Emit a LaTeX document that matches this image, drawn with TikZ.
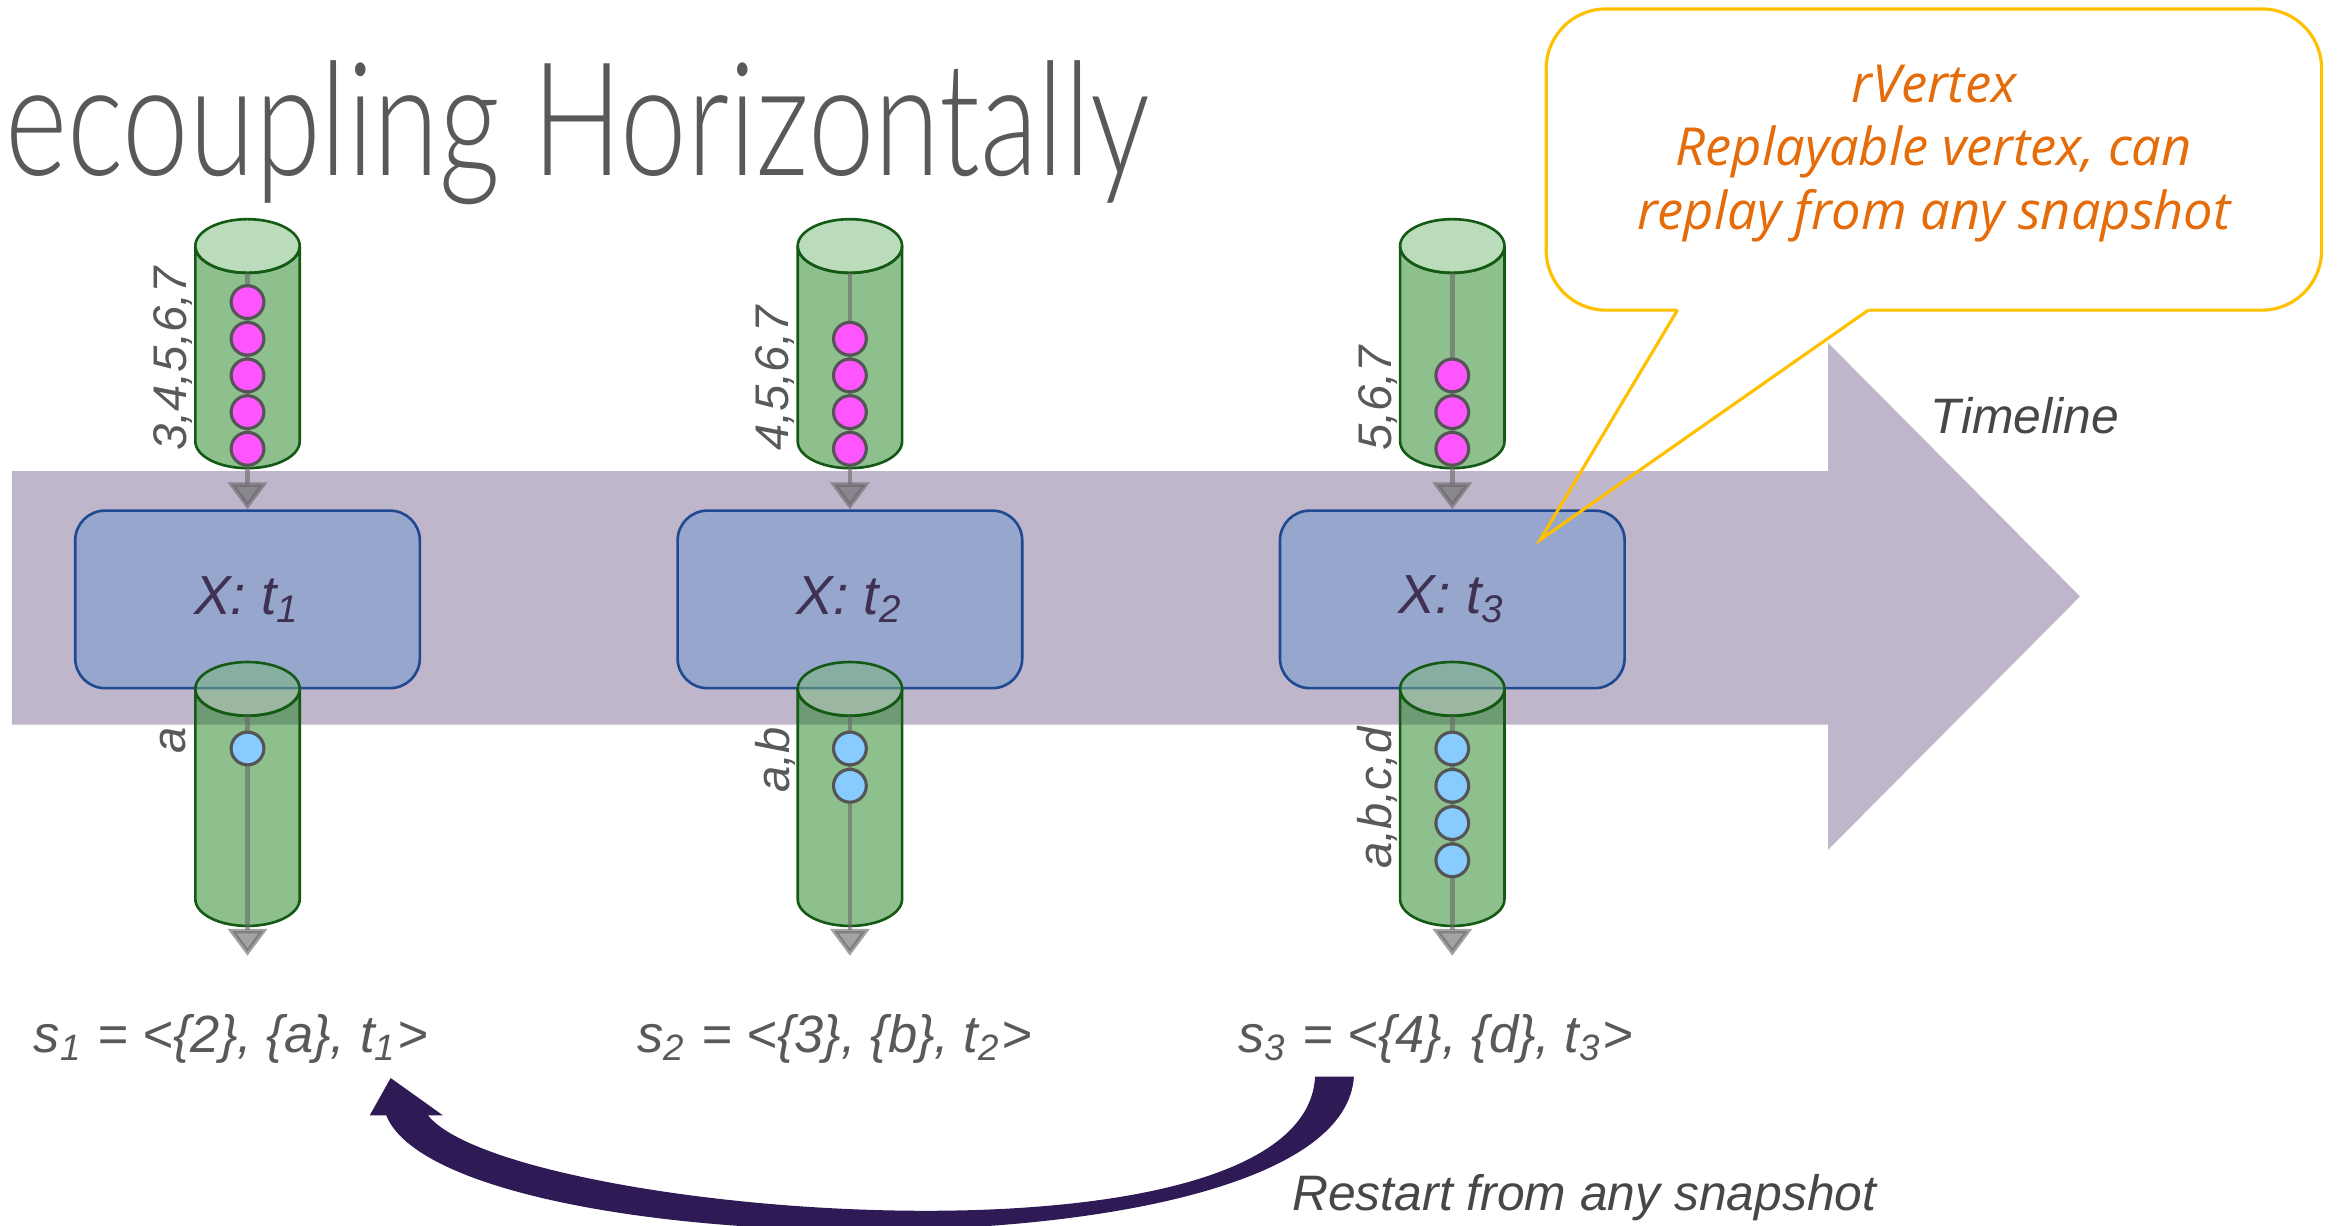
\documentclass[tikz,border=0pt]{standalone}
\usepackage{fontspec}
\setmainfont{Liberation Sans}
\newfontfamily\segoe{Open Sans}
\IfFontExistsTF{Lato Light}{\newfontfamily\titlefont{Lato Light}}{\newfontfamily\titlefont{Open Sans}}
\usetikzlibrary{arrows.meta, calc, positioning}

\definecolor{bandcol}{RGB}{191,182,203}
\definecolor{boxfill}{RGB}{151,166,204}
\definecolor{boxline}{RGB}{31,73,145}
\definecolor{boxtext}{RGB}{63,49,81}
\definecolor{pipebody}{RGB}{30,130,30}
\definecolor{pipeface}{RGB}{120,185,120}
\definecolor{pipeedge}{RGB}{20,90,20}
\definecolor{inbead}{RGB}{255,85,255}
\definecolor{outbead}{RGB}{136,204,255}
\definecolor{beadedge}{RGB}{85,85,85}
\definecolor{noteline}{RGB}{255,192,0}
\definecolor{notetext}{RGB}{228,108,10}
\definecolor{textgray}{RGB}{89,89,89}
\definecolor{restartcol}{RGB}{46,26,84}

\begin{document}
\begin{tikzpicture}[x=0.01cm, y=-0.01cm,
    vertexbox/.style={draw=boxline, fill=boxfill, line width=0.5pt, rounded corners=0.2cm,
      minimum width=2.31cm, minimum height=1.19cm, text=boxtext, font=\itshape\fontsize{10.5}{12}\selectfont},
    pipe/.style={fill=pipebody, fill opacity=0.5, draw=pipeedge, line width=0.5pt},
    pipetop/.style={fill=pipeface, fill opacity=0.5, draw=pipeedge, line width=0.5pt},
    flow/.style={draw=black!60, opacity=0.6, line width=0.85pt, -{Triangle[width=0.26cm, length=0.18cm]}},
    bead/.style={draw=beadedge, line width=0.6pt},
    pipelabel/.style={rotate=90, text=textgray, inner sep=0pt, font=\itshape\fontsize{9}{10}\selectfont},
    snap/.style={anchor=base west, inner sep=0pt, text=textgray, font=\itshape\fontsize{10}{12}\selectfont},
    caption/.style={inner sep=0pt, text=textgray!80!black, font=\itshape\fontsize{9.5}{11}\selectfont}]
			\useasboundingbox (0,0) rectangle (1568,822);

			% Title
			\node[anchor=base west, inner sep=0pt, text=textgray, font=\titlefont\fontsize{30}{32}\selectfont] (title) at (3,118)
			  {\resizebox{7.67cm}{0.77cm}{ecoupling Horizontally}};

			% Timeline band
			\fill[bandcol] (8,316) -- (1226,316) -- (1226,230) -- (1395,400) -- (1226,570) -- (1226,486) -- (8,486) -- cycle;
			\node[caption] (timeline) at (1358,279) {Timeline};

			% Vertices
			\node[vertexbox] (box1) at (166,402) {X: t\textsubscript{1}};
			\node[vertexbox] (box2) at (570,402) {X: t\textsubscript{2}};
			\node[vertexbox] (box3) at (974,402) {X: t\textsubscript{3}};

			% Input and output channels
			\foreach \cx/\n/\ins/\outs/\inlbl/\outlbl in {166/1/5/1/{3,4,5,6,7}/{a}, 570/2/4/2/{4,5,6,7}/{a,b}, 974/3/3/4/{5,6,7}/{a,b,c,d}}{
				\path[pipe] (\cx-35,165) arc[start angle=180, end angle=0, x radius=35, y radius=18]
				  -- (\cx+35,296) arc[start angle=0, end angle=180, x radius=35, y radius=18] -- cycle;
				\path[pipetop] (\cx,165) ellipse[x radius=35, y radius=18];
				\path[pipe] (\cx-35,462) arc[start angle=180, end angle=0, x radius=35, y radius=18]
				  -- (\cx+35,603) arc[start angle=0, end angle=180, x radius=35, y radius=18] -- cycle;
				\path[pipetop] (\cx,462) ellipse[x radius=35, y radius=18];
				\coordinate (in\n) at (\cx,183);
				\coordinate (out\n) at (\cx,480);
				\coordinate (end\n) at (\cx,641);
				\draw[flow] (in\n) -- (box\n.north);
				\draw[flow] (out\n) -- (end\n);
				\foreach \k in {1,...,\ins}
					\draw[bead, fill=inbead] (\cx,{301-24.6*(\ins-\k)}) circle[radius=11];
				\foreach \k in {1,...,\outs}
					\draw[bead, fill=outbead] (\cx,{502+25*(\k-1)}) circle[radius=11];
				\node[pipelabel, anchor=west] (inlbl\n) at (\cx-50,303) {\inlbl};
				\node[pipelabel, anchor=east] (outlbl\n) at (\cx-50,487) {\outlbl};
			}

			% Callout
			\draw[noteline, line width=0.6pt, rounded corners=0.4cm] (1125,208) -- (1037,208) -- (1037,6) -- (1557,6) -- (1557,208) -- (1253,208);
			\draw[noteline, line width=0.6pt] (1125,208) -- (1033,362) -- (1253,208);
			\node[text=notetext, align=center, font=\segoe\itshape\fontsize{10}{12.2}\selectfont] (note) at (1297,103)
			  {rVertex\\Replayable vertex, can\\replay from any snapshot};

			% Snapshots
			\node[snap] (s1) at (22,706) {s\textsubscript{1} = <\{2\}, \{a\}, t\textsubscript{1}>};
			\node[snap] (s2) at (427,706) {s\textsubscript{2} = <\{3\}, \{b\}, t\textsubscript{2}>};
			\node[snap] (s3) at (830,706) {s\textsubscript{3} = <\{4\}, \{d\}, t\textsubscript{3}>};

			% Restart arrow (cut by the lower edge)
			\fill[restartcol] (882,722) -- (908,722) .. controls (900,860) and (300,850) .. (259,748)
			  -- (248,748) -- (262,723) -- (297,748) -- (287,748) .. controls (340,815) and (875,860) .. (882,722) -- cycle;
			\node[caption, anchor=base west] (restart) at (866,812) {Restart from any snapshot};
		\end{tikzpicture}
\end{document}
